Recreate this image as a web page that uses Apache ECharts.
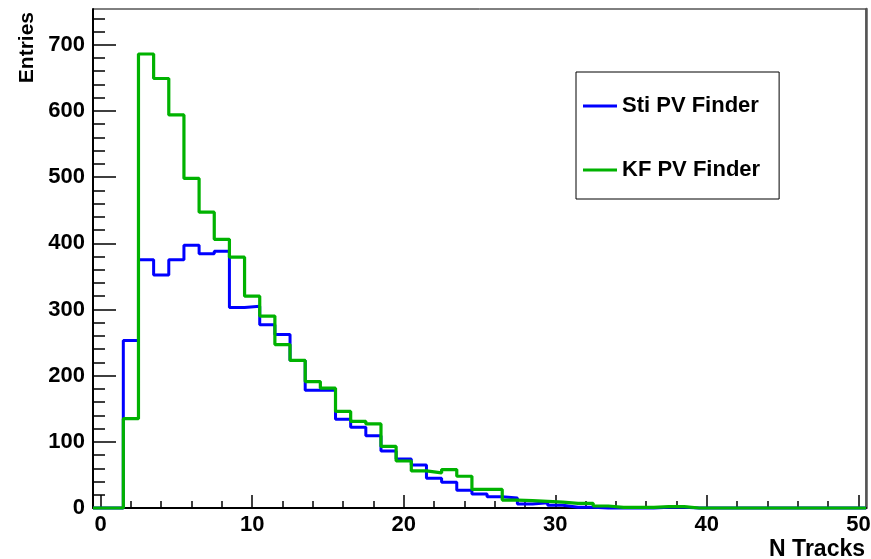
<!DOCTYPE html>
<html><head><meta charset="utf-8">
<script src="https://cdn.jsdelivr.net/npm/echarts@6/dist/echarts.min.js"></script>
<style>html,body{margin:0;padding:0;background:#fff}#c{width:871px;height:559px}</style>
</head><body><div id="c"></div>
<script>
// Bin centres (N Tracks), width 1
const nTracks = [0,1,2,3,4,5,6,7,8,9,10,11,12,13,14,15,16,17,18,19,20,21,22,23,24,25,26,27,28,29,30,31,32,33,34,35,36,37,38,39,40,41,42,43,44,45,46,47,48,49,50];
const stiPV = [0,0,253,375,352,375,397,384,388,303,305,277,262,223,178,178,134,122,109,86,74,65,45,39,27,21,17,15,6,8,4,1,1,0,0,0,0,1,1,0,0,0,0,0,0,0,0,0,0,0,0];
const kfPV  = [0,0,135,686,649,594,498,447,406,379,320,290,247,223,191,181,146,131,127,93,71,56,53,58,48,28,28,12,11,10,9,7,7,3,1,1,1,2,2,0,0,0,0,0,0,0,0,0,0,0,0];
const xTickLabels = [0,10,20,30,40,50];
const xMinorTicks = [0,2,4,6,8,10,12,14,16,18,20,22,24,26,28,30,32,34,36,38,40,42,44,46,48,50];
const yTickLabels = [0,100,200,300,400,500,600,700];
const yMinorTicks = [0,20,40,60,80,100,120,140,160,180,200,220,240,260,280,300,320,340,360,380,400,420,440,460,480,500,520,540,560,580,600,620,640,660,680,700,720,740];
const binWidth = 1;
const xMin = -0.5, xMax = 50.5, yMax = 754;

function histPoints(vals){
  const pts = nTracks.map((x,i)=>[x-binWidth/2, vals[i]]);
  pts.push([nTracks[nTracks.length-1]+binWidth/2, vals[vals.length-1]]);
  return pts;
}
const FONT = 'Liberation Sans';
const chart = echarts.init(document.getElementById('c'), null, {renderer:'canvas'});
chart.setOption({
  animation:false,
  backgroundColor:'#fff',
  grid:{left:93,right:5,top:9,bottom:51,outerBoundsMode:'none',containLabel:false,show:true,borderColor:'#000',borderWidth:1,backgroundColor:'transparent'},
  legend:{
    orient:'vertical', left:576, top:72, padding:[23,19,18,7], itemGap:42,
    itemWidth:34, itemHeight:3, icon:'rect', borderColor:'#000', borderWidth:1, borderRadius:0,
    backgroundColor:'#fff',
    textStyle:{fontFamily:FONT,fontWeight:'bold',fontSize:22,color:'#000',lineHeight:20},
    data:['Sti PV Finder','KF PV Finder']
  },
  xAxis:[
    {type:'value',min:xMin,max:xMax,position:'bottom',
     name:'N Tracks',nameLocation:'end',nameGap:0,nameMoveOverlap:false,
     nameTextStyle:{fontFamily:FONT,fontWeight:'bold',fontSize:23,color:'#000',align:'right',verticalAlign:'top',padding:[30,1,0,0]},
     axisLine:{show:true,onZero:false,lineStyle:{color:'#000',width:2}},
     axisTick:{show:true,inside:true,length:13,customValues:xTickLabels,lineStyle:{color:'#000',width:1.5}},
     axisLabel:{show:true,customValues:xTickLabels,margin:6,fontFamily:FONT,fontWeight:'bold',fontSize:22,color:'#000'},
     splitLine:{show:false}},
    {type:'value',min:xMin,max:xMax,position:'bottom',
     axisLine:{show:false,onZero:false},
     axisTick:{show:true,inside:true,length:7,customValues:xMinorTicks,lineStyle:{color:'#000',width:1.5}},
     axisLabel:{show:false},splitLine:{show:false}}
  ],
  yAxis:[
    {type:'value',min:0,max:yMax,position:'left',
     name:'Entries',nameLocation:'end',nameGap:-3,nameRotate:90,nameMoveOverlap:false,
     nameTextStyle:{fontFamily:FONT,fontWeight:'bold',fontSize:21,color:'#000',align:'right',verticalAlign:'bottom',padding:[0,0,55,0]},
     axisLine:{show:true,onZero:false,lineStyle:{color:'#000',width:2}},
     axisTick:{show:true,inside:true,length:23,customValues:yTickLabels,lineStyle:{color:'#000',width:1.5}},
     axisLabel:{show:true,customValues:yTickLabels,margin:8,fontFamily:FONT,fontWeight:'bold',fontSize:22,color:'#000'},
     splitLine:{show:false}},
    {type:'value',min:0,max:yMax,position:'left',
     axisLine:{show:false,onZero:false},
     axisTick:{show:true,inside:true,length:12,customValues:yMinorTicks,lineStyle:{color:'#000',width:1.5}},
     axisLabel:{show:false},splitLine:{show:false}},
    {type:'value',min:0,max:yMax,position:'right',
     axisLine:{show:true,onZero:false,lineStyle:{color:'#555',width:2.5}},
     axisTick:{show:false},axisLabel:{show:false},splitLine:{show:false}}
  ],
  series:[
    {type:'line',name:'Sti PV Finder',data:histPoints(stiPV),step:'end',symbol:'none',showSymbol:false,
     xAxisIndex:0,yAxisIndex:0,clip:false,lineStyle:{color:'#0000ff',width:3},itemStyle:{color:'#0000ff'}},
    {type:'line',name:'KF PV Finder',data:histPoints(kfPV),step:'end',symbol:'none',showSymbol:false,
     xAxisIndex:0,yAxisIndex:0,clip:false,lineStyle:{color:'#00b200',width:3.2},itemStyle:{color:'#00b200'}}
  ]
});
</script></body></html>
